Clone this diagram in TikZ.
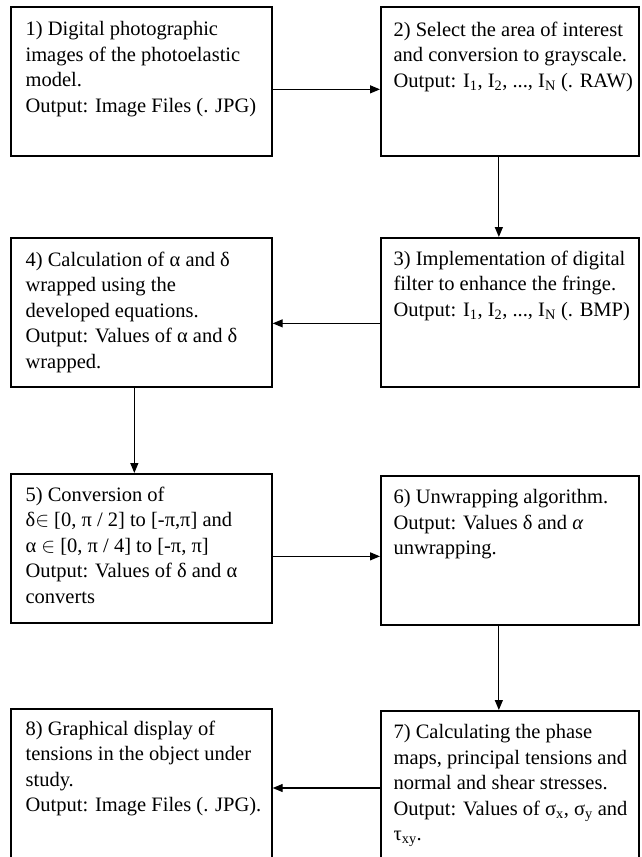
\documentclass[tikz,border=0pt]{standalone}
\usepackage{fontspec}
\setmainfont{Liberation Serif}
\usetikzlibrary{arrows.meta}
\tikzset{
  box/.style={draw,line width=1.7pt,inner sep=0pt,anchor=north west,minimum width=261pt,minimum height=149pt},
  rbox/.style={box,minimum width=258pt},
  tall/.style={minimum height=200pt},
  txt/.style={anchor=north west,align=left,inner sep=0pt,font=\fontsize{20.5}{25.5}\selectfont},
}
\begin{document}
\begin{tikzpicture}[x=1pt,y=-1pt,line width=1.2pt,>={Triangle[length=10pt,width=8pt]}]
  \clip (0,0) rectangle (642,857);
  \fill[white] (0,0) rectangle (642,857);

  % row 1
  %boxes
  \node[box,at={(10,6)}] (s1) {};
  \node[rbox,at={(380,6)}] (s2) {};
  %labels
  \node[txt,at={(25,21)}] (t1) {1) Digital photographic\\images of the photoelastic\\model.\\Output: Image Files (. JPG)};
  \node[txt,at={(393,21)}] (t2) {2) Select the area of interest\\and conversion to grayscale.\\Output: I\textsubscript{1}, I\textsubscript{2}, ..., I\textsubscript{N} (. RAW)};

  % row 2
  %boxes
  \node[box,at={(10,237)}] (s4) {};
  \node[rbox,at={(380,237)}] (s3) {};
  %labels
  \node[txt,at={(25,251)}] (t4) {4) Calculation of α and δ\\wrapped using the\\developed equations.\\Output: Values of α and δ\\wrapped.};
  \node[txt,at={(393,250)}] (t3) {3) Implementation of digital\\filter to enhance the fringe.\\Output: I\textsubscript{1}, I\textsubscript{2}, ..., I\textsubscript{N} (. BMP)};

  % row 3
  %boxes
  \node[box,at={(10,473)}] (s5) {};
  \node[rbox,at={(380,475)}] (s6) {};
  %labels
  \node[txt,at={(25,486)}] (t5) {5) Conversion of\\δ$\in$ [0, π / 2] to [-π,π] and\\α $\in$ [0, π / 4] to [-π, π]\\Output: Values of δ and α\\converts};
  \node[txt,at={(393,489)}] (t6) {6) Unwrapping algorithm.\\Output: Values δ and \textit{α}\\unwrapping.};

  % row 4
  %boxes
  \node[box,tall,at={(10,708)}] (s8) {};
  \node[rbox,tall,at={(380,710)}] (s7) {};
  %labels
  \node[txt,at={(25,720)}] (t8) {8) Graphical display of\\tensions in the object under\\study.\\Output: Image Files (. JPG).};
  \node[txt,at={(393,724)}] (t7) {7) Calculating the phase\\maps, principal tensions and\\normal and shear stresses.\\Output: Values of σ\textsubscript{x}, σ\textsubscript{y} and\\τ\textsubscript{xy}.};

  % arrows
  \draw[->] ([yshift=-8pt]s1.east) -- ([yshift=-8pt]s1.east -| s2.west);
  \draw[->] ([xshift=-11pt]s2.south) -- ([xshift=-11pt]s2.south |- s3.north);
  \draw[->] ([yshift=-11pt]s3.west) -- ([yshift=-11pt]s3.west -| s4.east);
  \draw[->] ([xshift=-7pt]s4.south) -- ([xshift=-7pt]s4.south |- s5.north);
  \draw[->] ([yshift=-8pt]s5.east) -- ([yshift=-8pt]s5.east -| s6.west);
  \draw[->] ([xshift=-11pt]s6.south) -- ([xshift=-11pt]s6.south |- s7.north);
  \draw[->] (s7.west |- 0,788) coordinate (a7) -- (a7 -| s8.east);
\end{tikzpicture}
\end{document}
